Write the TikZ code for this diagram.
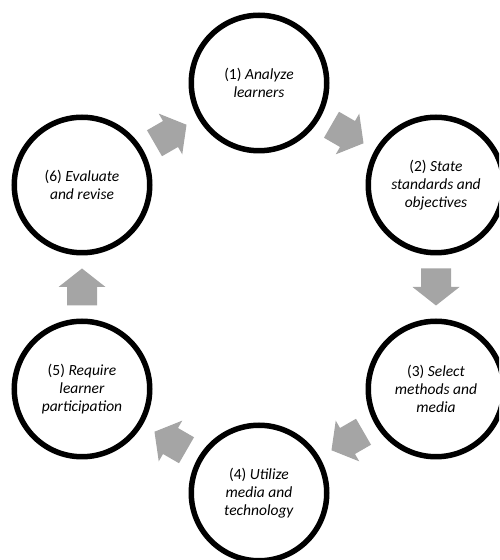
\documentclass[tikz,border=0pt]{standalone}
\usepackage{fontspec}
\setmainfont{Carlito}
\usetikzlibrary{calc}
\definecolor{arrowgray}{RGB}{165,165,165}
\begin{document}
\begin{tikzpicture}[x=1pt,y=1pt,
  stage/.style={circle, draw=black, line width=5.5pt, minimum size=135.5pt,
    inner sep=0pt, align=center, font=\fontsize{15.5}{18}\selectfont},
  pics/blockarrow/.style={code={
    \fill[arrowgray] (-18.5,-15) -- (0,-15) -- (0,-23.5) -- (18.5,0)
      -- (0,23.5) -- (0,15) -- (-18.5,15) -- cycle;}}]
\useasboundingbox (0,0) rectangle (499,560);
\clip (0,0) rectangle (499,560);
\node[stage] (n1) at (259,477) {(1) \textit{Analyze}\\\textit{learners}};
\node[stage] (n2) at (436,375) {(2) \textit{State}\\\textit{standards and}\\\textit{objectives}};
\node[stage] (n3) at (436,171) {(3) \textit{Select}\\\textit{methods and}\\\textit{media}};
\node[stage] (n4) at (259,67) {(4) \textit{Utilize}\\\textit{media and}\\\textit{technology}};
\node[stage] (n5) at (82,171) {(5) \textit{Require}\\\textit{learner}\\\textit{participation}};
\node[stage] (n6) at (82,375) {(6) \textit{Evaluate}\\\textit{and revise}};
\pic[rotate=-30] at ($(n1)!0.5!(n2)$) {blockarrow};
\pic[rotate=-90] at ($(n2)!0.5!(n3)$) {blockarrow};
\pic[rotate=-150] at ($(n3)!0.5!(n4)$) {blockarrow};
\pic[rotate=150] at ($(n4)!0.5!(n5)$) {blockarrow};
\pic[rotate=90] at ($(n5)!0.5!(n6)$) {blockarrow};
\pic[rotate=30] at ($(n6)!0.5!(n1)$) {blockarrow};
\end{tikzpicture}
\end{document}
